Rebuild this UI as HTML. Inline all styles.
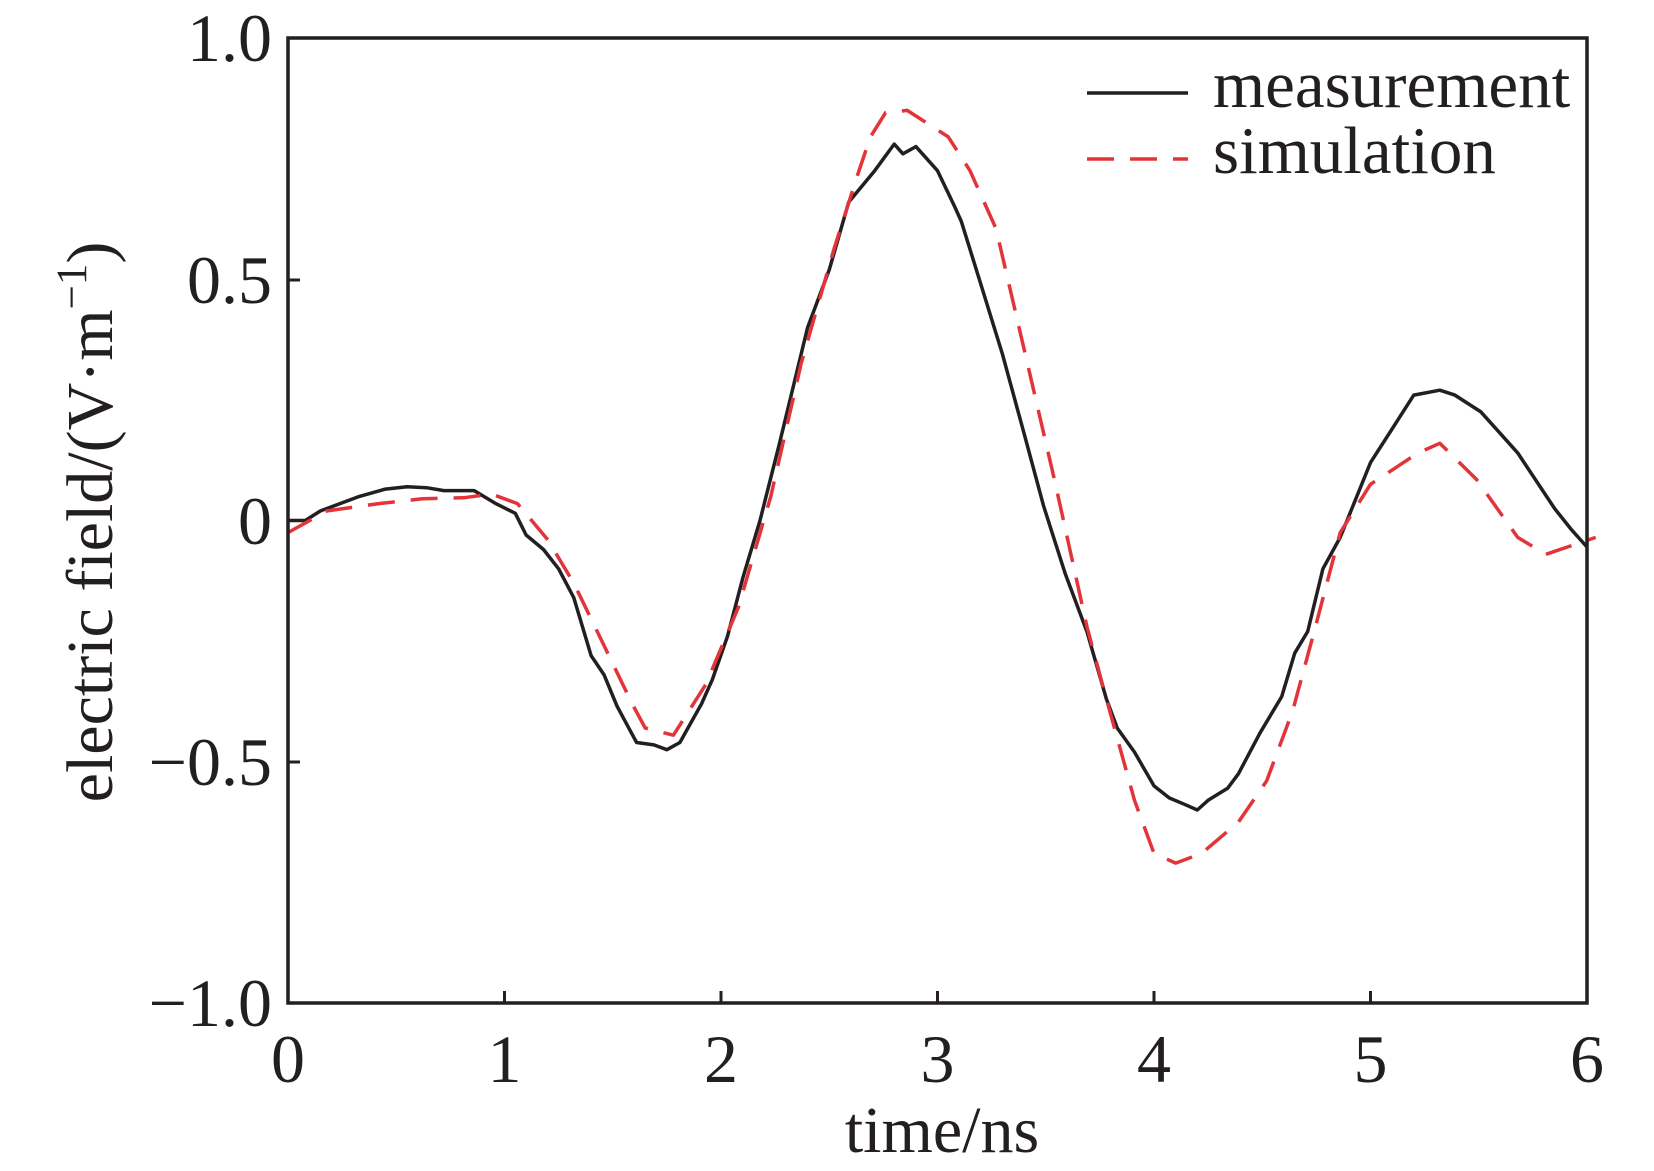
<!DOCTYPE html>
<html><head><meta charset="utf-8"><style>
html,body{margin:0;padding:0;background:#fff;}
svg{display:block;}
text{font-family:"Liberation Serif",serif;fill:#231f20;}
</style></head><body>
<svg id="s" width="1654" height="1171" viewBox="0 0 1654 1171" xmlns="http://www.w3.org/2000/svg">
<defs><clipPath id="c"><rect x="288" y="30" width="1320" height="973"/></clipPath></defs>
<g id="series" clip-path="url(#c)"></g>
<rect x="288" y="38" width="1299" height="965" fill="none" stroke="#231f20" stroke-width="3.5"/>
<g stroke="#231f20" stroke-width="3">
<line x1="288" y1="280" x2="300" y2="280"/>
<line x1="288" y1="520.5" x2="300" y2="520.5"/>
<line x1="288" y1="762" x2="300" y2="762"/>
<line x1="504.5" y1="1003" x2="504.5" y2="991"/>
<line x1="721" y1="1003" x2="721" y2="991"/>
<line x1="937.5" y1="1003" x2="937.5" y2="991"/>
<line x1="1154" y1="1003" x2="1154" y2="991"/>
<line x1="1370.5" y1="1003" x2="1370.5" y2="991"/>
</g>
<g font-size="68" text-anchor="end">
<text x="272" y="61">1.0</text>
<text x="272" y="303">0.5</text>
<text x="272" y="544">0</text>
<text x="272" y="785">−0.5</text>
<text x="272" y="1026">−1.0</text>
</g>
<g font-size="68" text-anchor="middle">
<text x="288" y="1082">0</text>
<text x="504.5" y="1082">1</text>
<text x="721" y="1082">2</text>
<text x="937.5" y="1082">3</text>
<text x="1154" y="1082">4</text>
<text x="1370.5" y="1082">5</text>
<text x="1587" y="1082">6</text>
</g>
<text x="942" y="1152" font-size="66" text-anchor="middle">time/ns</text>
<text transform="translate(112,522) rotate(-90)" font-size="66" text-anchor="middle">electric field/(V·m<tspan dy="-26" font-size="43">−1</tspan><tspan dy="26">)</tspan></text>
<line x1="1087" y1="93" x2="1188" y2="93" stroke="#231f20" stroke-width="3.5"/>
<line x1="1087" y1="159" x2="1188" y2="159" stroke="#e3343a" stroke-width="3.5" stroke-dasharray="27,16"/>
<text x="1213" y="107" font-size="67">measurement</text>
<text x="1213" y="173" font-size="67">simulation</text>
</svg>
<script>
var m=[[0,0],[.08,0],[.15,.02],[.33,.05],[.45,.065],[.55,.07],[.64,.068],[.72,.062],[.86,.062],[.96,.035],[1.05,.015],[1.1,-.03],[1.18,-.06],[1.25,-.1],[1.32,-.16],[1.4,-.28],[1.46,-.32],[1.52,-.385],[1.61,-.46],[1.69,-.465],[1.75,-.475],[1.81,-.46],[1.86,-.42],[1.91,-.38],[1.96,-.33],[2.03,-.24],[2.1,-.12],[2.18,0],[2.27,.16],[2.4,.4],[2.5,.52],[2.59,.66],[2.71,.725],[2.8,.78],[2.84,.76],[2.9,.775],[3.0,.725],[3.08,.65],[3.11,.62],[3.2,.49],[3.3,.345],[3.4,.18],[3.49,.03],[3.59,-.11],[3.69,-.23],[3.78,-.37],[3.83,-.43],[3.91,-.48],[4.0,-.55],[4.07,-.575],[4.15,-.59],[4.2,-.6],[4.25,-.58],[4.34,-.555],[4.39,-.525],[4.49,-.44],[4.59,-.365],[4.65,-.275],[4.71,-.23],[4.78,-.1],[4.86,-.035],[5.0,.12],[5.2,.26],[5.32,.27],[5.39,.26],[5.51,.225],[5.61,.175],[5.68,.14],[5.85,.025],[5.93,-.02],[6.0,-.055]];
var s=[[0,-.025],[.18,.02],[.42,.035],[.62,.045],[.81,.047],[.94,.055],[1.06,.035],[1.2,-.04],[1.32,-.13],[1.45,-.25],[1.59,-.38],[1.65,-.43],[1.78,-.445],[1.93,-.34],[2.08,-.18],[2.23,.05],[2.37,.325],[2.52,.56],[2.63,.715],[2.69,.795],[2.76,.845],[2.86,.85],[3.05,.795],[3.15,.725],[3.27,.605],[3.4,.355],[3.54,.085],[3.69,-.22],[3.78,-.37],[3.91,-.58],[4.0,-.69],[4.1,-.71],[4.22,-.69],[4.39,-.625],[4.52,-.54],[4.64,-.395],[4.74,-.23],[4.86,-.025],[5.0,.075],[5.22,.14],[5.32,.16],[5.49,.085],[5.68,-.035],[5.81,-.07],[6.04,-.035]];
function pts(a){return a.map(function(p){return (288+p[0]*216.5).toFixed(1)+","+(520.5-p[1]*482.5).toFixed(1);}).join(" ");}
var g=document.getElementById("series");
g.innerHTML='<polyline points="'+pts(m)+'" fill="none" stroke="#231f20" stroke-width="3.5" stroke-linejoin="round"/>'+
'<polyline points="'+pts(s)+'" fill="none" stroke="#e3343a" stroke-width="3.5" stroke-dasharray="27,16" stroke-linejoin="round"/>';
</script>
</body></html>
